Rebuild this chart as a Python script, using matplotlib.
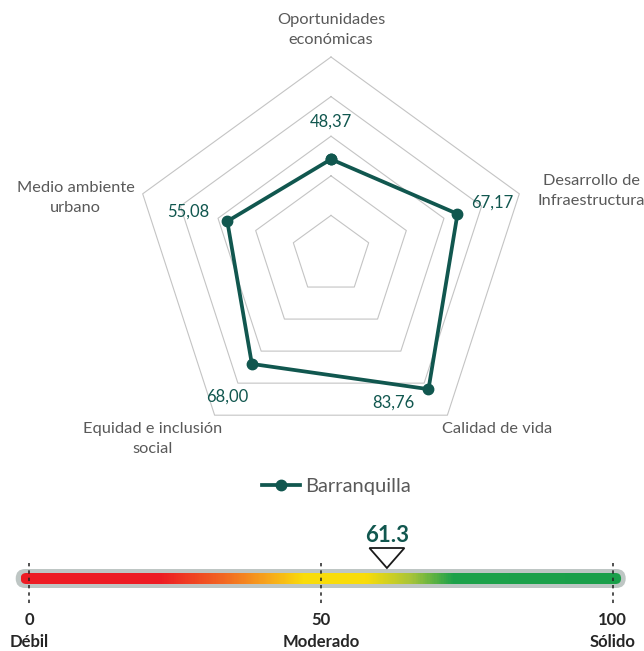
import numpy as np
import matplotlib
matplotlib.use("Agg")
import matplotlib.pyplot as plt
from matplotlib.patches import FancyBboxPatch, Polygon
from matplotlib.colors import LinearSegmentedColormap

plt.rcParams['font.family'] = ['Lato', 'DejaVu Sans']

# ---- data ----
categories = ["Oportunidades\neconómicas",
              "Desarrollo de\nInfraestructura",
              "Calidad de vida",
              "Equidad e inclusión\nsocial",
              "Medio ambiente\nurbano"]
values = [48.37, 67.17, 83.76, 68.00, 55.08]
value_labels = ["48,37", "67,17", "83,76", "68,00", "55,08"]
series_name = "Barranquilla"
grid_levels = [20, 40, 60, 80, 100]

score = 61.3
scale_ticks = [0, 50, 100]
scale_tick_labels = ["0", "50", "100"]
scale_names = ["Débil", "Moderado", "Sólido"]

# ---- styling ----
TEAL = "#11574F"
GRID = "#C4C4C4"
LABEL = "#595959"
W, H = 644, 651
DPI = 100

fig = plt.figure(figsize=(W / DPI, H / DPI), dpi=DPI)

# ---------------- radar ----------------
s = 1.98                      # pixels per value unit
cx, cy, top_px = 331, 255, 500
ax = fig.add_axes([0, (H - top_px) / H, 1, top_px / H])
ax.set_xlim(-cx / s, (W - cx) / s)
ax.set_ylim(-(top_px - cy) / s, cy / s)
ax.axis("off")

n = len(categories)
ang = np.arange(n) * 2 * np.pi / n
ux, uy = np.sin(ang), np.cos(ang)

for lv in grid_levels:
    gx = np.append(lv * ux, lv * ux[0])
    gy = np.append(lv * uy, lv * uy[0])
    ax.plot(gx, gy, color=GRID, lw=0.8, zorder=1)

vals = np.array(values)
px = np.append(vals * ux, vals[0] * ux[0])
py = np.append(vals * uy, vals[0] * uy[0])
line, = ax.plot(px, py, color=TEAL, lw=2.7, marker="o", ms=7.5,
                zorder=3, label=series_name, solid_joinstyle="miter")

value_offsets = [(0, 38), (35, 11), (-35, -13), (-25, -33), (-39, 10)]
for v, lab, a, off in zip(values, value_labels, ang, value_offsets):
    ax.annotate(lab, xy=(v * np.sin(a), v * np.cos(a)), xytext=off,
                textcoords="offset pixels", ha="center", va="center",
                color=TEAL, fontsize=12)

cat_offsets = [(0, 27), (72, 3), (50, -14), (-62, -24), (-67, -4)]
for cat, a, off in zip(categories, ang, cat_offsets):
    ax.annotate(cat, xy=(100 * np.sin(a), 100 * np.cos(a)), xytext=off,
                textcoords="offset pixels", ha="center", va="center",
                color=LABEL, fontsize=11.8, linespacing=1.6,
                annotation_clip=False)

fig.legend(handles=[line], loc="center",
           bbox_to_anchor=(336.5 / W, 1 - 486 / H), frameon=False,
           fontsize=14.5, labelcolor=LABEL, handlelength=1.9,
           handletextpad=0.25)

# ---------------- gauge ----------------
g = 5.834                     # pixels per scale unit
x0_px, bar_px, g_top = 29.3, 578.5, 500
gax = fig.add_axes([0, 0, 1, (H - g_top) / H])
gax.set_xlim(-x0_px / g, (W - x0_px) / g)
gax.set_ylim(-(H - bar_px) / g, (bar_px - g_top) / g)
gax.axis("off")

lo, hi = scale_ticks[0], scale_ticks[-1]

oh = 19 / g
outer = FancyBboxPatch((lo - 13.6 / g, -oh / 2), (hi - lo) + 26.6 / g, oh,
                       boxstyle=f"round,pad=0,rounding_size={oh / 2}",
                       fc="#BEC6C4", ec="none", zorder=1)
gax.add_patch(outer)

ih = 11 / g
inner = FancyBboxPatch((lo - 8.6 / g, -ih / 2), (hi - lo) + 17.0 / g, ih,
                       boxstyle=f"round,pad=0,rounding_size={ih / 2}",
                       fc="none", ec="none", zorder=2)
gax.add_patch(inner)

cmap = LinearSegmentedColormap.from_list("gauge", [
    (0.00, "#ED1C24"), (0.23, "#ED1C24"), (0.34, "#F26A22"),
    (0.41, "#F7A61C"), (0.47, "#F9DC0A"), (0.575, "#F9DC0A"),
    (0.65, "#A7C43A"), (0.72, "#1DA24B"), (1.00, "#1A9F4A")])
grad = np.linspace(0, 1, 600)[None, :]
im = gax.imshow(grad, cmap=cmap, aspect="auto", zorder=2,
                extent=[lo - 8.6 / g, hi + 8.4 / g, -ih / 2, ih / 2])
im.set_clip_path(inner)

for t, tl, nm in zip(scale_ticks, scale_tick_labels, scale_names):
    gax.plot([t, t], [15.5 / g, -28.5 / g], color="#222222", lw=1.1,
             ls=(0, (2.2, 2.6)), zorder=4)
    gax.text(t, -41.5 / g, tl, ha="center", va="center", fontsize=12,
             fontweight="bold", color="#262626")
    gax.text(t, -63.5 / g, nm, ha="center", va="center", fontsize=12,
             fontweight="bold", color="#262626")

tip = 10.5 / g
tri = Polygon([[score, tip], [score - 17.5 / g, 30.5 / g],
               [score + 17.5 / g, 30.5 / g]], closed=True,
              fc="white", ec="#1A1A1A", lw=1.3, zorder=5)
gax.add_patch(tri)
gax.text(score, 43 / g, f"{score:.1f}", ha="center", va="center",
         fontsize=16, fontweight="bold", color=TEAL)

fig.savefig("out.png", dpi=DPI)
